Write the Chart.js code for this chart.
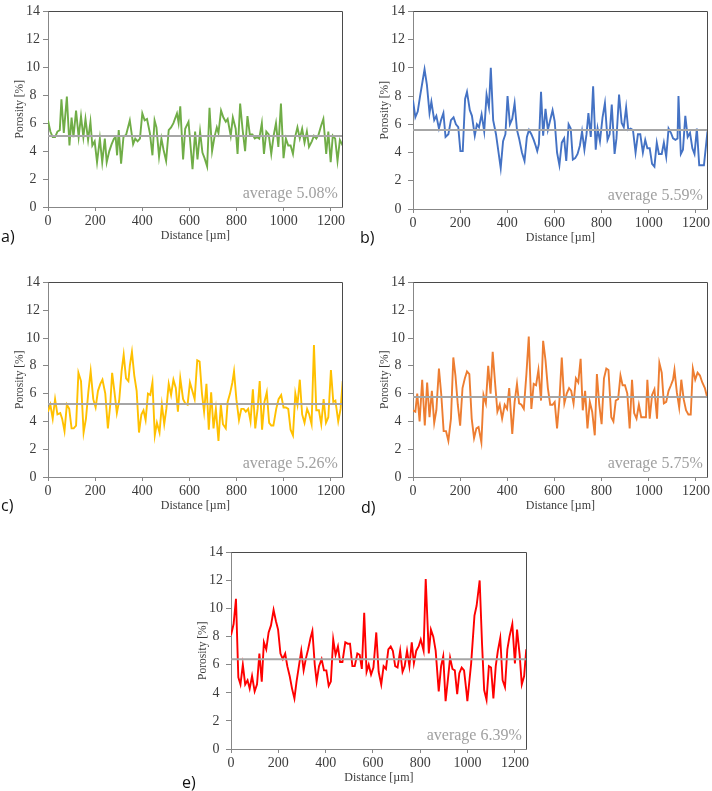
<!DOCTYPE html>
<html>
<head>
<meta charset="utf-8">
<script src="https://cdn.jsdelivr.net/npm/chart.js@4.4.1/dist/chart.umd.min.js"></script>
<style>
  body { margin: 0; background: #fff; }
  #page { position: relative; width: 712px; height: 791px; overflow: hidden; background: #fff; }
  canvas { position: absolute; }
  .tag { position: absolute; font-family: 'Open Sans', sans-serif; font-size: 16px; line-height: 1; color: #111; }
</style>
</head>
<body>
<div id="page">
  <canvas id="chartA" width="347" height="243" style="left:0px;top:0px"></canvas>
  <canvas id="chartB" width="347" height="245" style="left:365px;top:0px"></canvas>
  <canvas id="chartC" width="347" height="242" style="left:0px;top:271px"></canvas>
  <canvas id="chartD" width="347" height="242" style="left:365px;top:271px"></canvas>
  <canvas id="chartE" width="348" height="244" style="left:183px;top:541px"></canvas>
  <div class="tag" style="left:1px;top:228px">a)</div>
  <div class="tag" style="left:360px;top:229px">b)</div>
  <div class="tag" style="left:1px;top:497px">c)</div>
  <div class="tag" style="left:361px;top:499px">d)</div>
  <div class="tag" style="left:182px;top:774px">e)</div>
</div>
<script>
// distance [um] and porosity [%]
const distA = [0,10,20,30,40,50,57,67,80,91,100,108,119,130,140,150,159,170,180,188,198,208,220,230,241,249,260,270,280,287,293,300,310,320,332,347,361,370,380,390,400,410,420,432,443,452,460,471,481,490,501,512,522,532,547,554,561,573,582,596,613,624,634,645,655,664,675,685,696,706,716,723,734,744,754,762,775,784,796,804,815,825,836,846,856,867,877,887,896,907,916,926,936,947,957,967,977,988,999,1009,1019,1029,1039,1048,1058,1068,1078,1088,1098,1107,1119,1128,1138,1148,1158,1168,1180,1189,1199,1208,1218,1228,1238,1250];
const porA = [6.2,5.4,5.0,5.0,5.4,5.5,7.7,5.3,7.9,4.4,6.4,5.0,6.9,5.0,6.5,5.0,6.3,4.8,6.1,4.4,4.7,3.2,4.9,3.2,4.9,3.2,4.0,4.5,4.9,5.0,3.7,5.5,3.1,5.0,5.2,6.2,4.5,4.9,4.7,4.9,6.7,6.2,6.3,5.3,3.7,6.2,5.7,3.6,4.9,4.1,3.3,5.5,5.7,6.0,6.7,6.0,7.2,3.4,5.6,6.1,2.7,5.4,3.4,5.4,3.9,3.5,2.9,7.1,4.0,5.0,5.7,5.3,6.9,6.4,6.1,6.3,5.1,6.4,5.6,3.8,7.4,5.6,4.0,6.5,5.2,5.2,4.9,5.0,4.9,6.0,3.8,5.4,5.2,3.8,5.1,6.0,4.3,7.4,3.5,4.9,4.4,4.4,3.8,5.0,5.7,4.9,5.6,4.6,5.4,4.3,4.7,5.1,4.9,5.2,5.8,6.3,3.8,5.4,3.2,5.1,4.9,3.3,4.8,4.4];

const distB = [0,10,20,30,40,49,59,70,78,90,99,110,119,129,138,150,161,172,182,192,201,211,221,229,241,250,262,271,280,291,302,312,322,330,340,352,362,372,382,392,401,411,421,431,441,450,462,473,483,492,502,512,520,527,534,543,552,562,572,582,592,601,611,621,631,641,650,660,669,678,688,698,708,717,727,736,744,754,764,775,783,793,804,814,825,834,843,855,863,874,885,894,904,913,923,933,944,954,964,975,985,994,1004,1014,1024,1034,1043,1055,1064,1074,1084,1094,1103,1113,1122,1126,1136,1145,1155,1165,1175,1185,1194,1204,1214,1234,1249];
const porB = [7.7,6.5,6.9,8.0,9.0,9.9,8.8,6.8,7.6,6.3,6.6,5.7,6.3,6.8,5.1,5.3,6.3,6.5,6.0,5.8,4.1,4.1,7.8,8.3,7.0,6.6,5.2,6.0,5.8,6.7,5.5,8.1,7.2,10.0,6.3,5.3,4.1,2.9,4.8,5.3,8.0,6.0,6.4,7.5,5.6,5.0,4.0,3.4,5.1,5.6,5.3,4.9,4.5,4.1,4.6,8.3,5.2,7.1,5.6,6.3,7.0,6.2,4.0,3.1,4.7,5.0,3.4,6.0,5.7,3.5,3.6,3.9,4.5,5.5,4.2,5.3,6.8,5.1,8.7,4.2,5.7,4.8,6.5,7.5,4.9,5.3,7.4,3.9,5.0,8.1,6.1,5.8,7.2,5.6,5.7,5.6,4.0,5.3,5.3,4.0,4.9,4.3,4.3,3.2,3.0,4.7,3.9,3.9,4.7,3.7,5.7,5.4,5.0,4.9,5.0,8.0,3.9,4.2,6.6,5.1,5.4,4.3,3.9,5.7,3.1,3.1,5.5];

const distC = [0,10,20,30,40,52,60,70,80,90,100,109,119,129,140,151,161,171,181,192,202,212,222,231,243,254,264,272,282,292,302,312,321,331,341,347,356,366,376,386,396,405,414,424,434,443,453,462,473,483,493,502,512,522,532,542,551,561,573,582,592,602,612,622,633,643,653,662,672,682,692,702,712,723,733,742,754,762,772,782,789,799,810,820,830,839,849,859,869,879,889,898,908,918,928,938,947,956,968,978,989,999,1009,1019,1029,1039,1049,1058,1068,1078,1088,1099,1108,1118,1128,1138,1149,1159,1169,1179,1189,1200,1210,1219,1231,1241,1250];
const porC = [4.7,5.2,4.2,5.6,4.5,4.6,4.2,3.3,5.2,4.9,3.5,3.5,3.7,7.5,6.9,3.2,4.2,6.1,7.6,5.6,5.0,6.2,6.7,7.0,6.0,3.5,5.2,7.5,6.1,4.6,5.5,7.6,8.8,7.1,6.9,8.0,9.0,7.3,6.2,3.2,4.5,4.8,4.1,6.0,5.9,6.8,3.0,3.9,3.2,5.2,3.8,4.9,6.7,5.9,7.0,6.4,4.7,7.1,5.6,5.3,5.2,6.8,6.2,5.6,8.4,8.3,6.0,4.7,6.7,3.4,6.1,3.5,4.9,2.6,5.2,3.8,3.5,5.4,6.0,6.8,7.6,5.6,4.1,4.9,4.9,4.7,4.9,4.0,6.3,3.5,4.9,6.9,3.4,5.4,6.1,3.9,3.7,3.7,4.9,5.6,5.9,5.0,5.0,4.9,3.4,3.0,6.0,5.2,7.0,4.5,3.9,4.9,4.5,3.8,9.5,4.8,4.8,3.8,5.6,3.9,4.3,7.7,5.4,5.5,4.0,4.9,6.9];

const distD = [0,10,18,28,39,50,60,70,80,90,99,110,120,130,140,150,161,171,180,190,200,210,220,229,239,249,259,269,278,290,299,309,319,329,338,348,358,368,378,389,399,408,421,431,441,450,460,470,481,491,502,512,522,532,543,552,562,572,582,592,601,611,621,631,642,652,662,671,681,691,701,711,720,730,740,750,760,771,780,790,800,810,820,829,841,850,860,870,880,889,899,909,919,929,938,948,958,968,978,988,994,1004,1014,1024,1035,1045,1055,1064,1074,1084,1094,1103,1109,1119,1129,1138,1148,1158,1168,1178,1187,1197,1207,1217,1227,1238,1248];
const porD = [4.8,4.7,6.0,4.0,7.0,3.7,6.8,4.3,6.2,3.9,4.8,7.8,5.9,3.3,3.3,2.6,4.2,8.6,7.3,5.2,3.7,6.4,7.1,7.6,7.4,4.2,2.8,3.5,3.6,2.5,5.9,5.3,8.0,6.0,9.0,6.8,4.7,5.2,4.2,5.2,4.9,6.4,3.1,5.4,6.7,5.3,5.2,4.9,7.4,10.1,4.9,6.7,6.6,7.7,5.5,9.8,8.4,6.4,5.2,5.2,5.4,3.5,5.5,8.6,5.3,6.0,6.4,6.2,5.3,7.1,6.8,8.5,4.8,6.2,3.5,5.4,4.7,3.0,7.4,5.2,3.8,7.1,7.8,7.7,4.3,4.0,5.5,5.6,7.3,6.6,6.6,6.0,3.5,7.0,4.6,4.2,5.2,4.3,4.3,4.3,7.0,4.2,5.9,6.3,4.2,8.2,7.5,5.3,5.4,6.2,6.6,7.0,7.7,6.1,5.0,7.0,5.6,4.8,4.5,4.5,7.8,7.0,7.5,7.3,6.8,6.4,5.7];

const distE = [0,11,21,31,40,50,60,70,79,89,100,110,120,130,139,149,159,169,180,190,199,209,219,229,238,248,258,268,277,287,297,307,316,326,336,344,354,362,372,383,393,403,413,422,432,442,452,461,471,483,493,503,513,523,534,544,553,563,573,582,592,602,614,624,635,645,655,665,675,684,694,704,715,725,734,744,754,764,773,783,793,802,814,823,836,845,855,865,878,888,897,907,917,926,936,946,956,965,975,985,995,999,1015,1029,1038,1051,1061,1070,1080,1090,1099,1109,1119,1128,1138,1148,1158,1168,1177,1189,1200,1209,1220,1229,1239,1248];
const porE = [8.1,8.9,10.7,5.1,4.6,6.0,4.6,4.9,4.3,5.2,4.1,4.6,6.8,4.8,7.6,7.1,8.3,8.8,9.9,9.1,8.5,6.8,6.4,6.8,5.9,5.2,4.3,3.6,4.8,5.9,7.0,5.6,6.4,7.1,7.9,8.4,6.0,4.8,5.9,6.4,5.6,5.6,4.5,4.8,7.8,6.7,7.3,6.2,6.2,7.6,7.5,7.5,5.9,5.9,6.8,6.7,5.7,9.7,5.5,6.0,5.3,5.8,8.3,5.5,4.6,5.9,5.7,7.1,7.3,7.0,5.9,5.8,7.0,5.5,5.9,7.0,5.9,7.6,6.1,7.0,7.3,7.8,7.0,12.1,6.8,8.5,8.0,7.0,4.1,5.9,6.6,3.4,5.0,6.5,5.7,5.6,3.9,5.4,5.8,5.6,4.1,3.4,6.1,9.5,10.2,12.0,7.5,4.2,3.5,5.9,5.8,3.6,5.9,7.0,7.9,4.9,4.4,7.1,8.0,8.9,6.1,8.5,6.7,4.6,5.2,7.1];

const averages = [5.08, 5.59, 5.26, 5.75, 6.39];
const xTicks = [0, 200, 400, 600, 800, 1000, 1200];

const SERIF = "'Liberation Serif', 'Times New Roman', serif";
const AXIS = '#878787';
const FRAME = '#4a4a4a';
const TEXT = '#3c3c3c';

// top/right frame of the plot area + the "average" note
const framePlugin = {
  id: 'frame',
  afterDraw(chart, args, opts) {
    const {ctx, chartArea: a} = chart;
    const l = Math.round(a.left) + 0.5, t = Math.round(a.top) + 0.5;
    const r = Math.round(a.right) - 0.5, b = Math.round(a.bottom);
    ctx.save();
    ctx.strokeStyle = FRAME;
    ctx.lineWidth = 1;
    ctx.beginPath();
    ctx.moveTo(l, t);
    ctx.lineTo(r, t);
    ctx.lineTo(r, b);
    ctx.stroke();
    ctx.font = '16px ' + SERIF;
    ctx.fillStyle = '#a0a0a0';
    ctx.textAlign = 'right';
    ctx.textBaseline = 'alphabetic';
    ctx.fillText(opts.text, a.right - 5, a.bottom - 9);
    ctx.restore();
  }
};

function drawPanel(id, dist, por, avg, color) {
  const pts = dist.map((d, i) => ({x: d, y: por[i]}));
  new Chart(document.getElementById(id), {
    type: 'line',
    data: {
      datasets: [
        {
          data: [{x: 0, y: avg}, {x: 1250, y: avg}],
          borderColor: '#a6a6a6',
          borderWidth: 2,
          pointRadius: 0
        },
        {
          data: pts,
          borderColor: color,
          borderWidth: 1.9,
          pointRadius: 0,
          tension: 0
        }
      ]
    },
    options: {
      responsive: false,
      animation: false,
      devicePixelRatio: 1,
      layout: {padding: {top: 6, right: 2, left: 0, bottom: 0}},
      plugins: {
        legend: {display: false},
        tooltip: {enabled: false},
        frame: {text: 'average ' + avg.toFixed(2) + '%'}
      },
      scales: {
        x: {
          type: 'linear',
          min: 0,
          max: 1250,
          afterBuildTicks: s => { s.ticks = xTicks.map(v => ({value: v})); },
          afterFit: s => { s.height = 36; },
          ticks: {autoSkip: false, maxRotation: 0, padding: 2, color: TEXT, font: {family: SERIF, size: 14}, callback: v => String(v)},
          grid: {drawOnChartArea: false, tickLength: 4, color: AXIS},
          border: {color: AXIS},
          title: {display: true, text: 'Distance [µm]', color: TEXT, font: {family: SERIF, size: 12}, padding: {top: 0, bottom: 0}}
        },
        y: {
          min: 0,
          max: 14,
          afterFit: s => { s.width = 48; },
          ticks: {stepSize: 2, padding: 3, crossAlign: 'center', color: TEXT, font: {family: SERIF, size: 14}},
          grid: {drawOnChartArea: false, tickLength: 5, color: AXIS},
          border: {color: AXIS},
          title: {display: true, text: 'Porosity [%]', color: TEXT, font: {family: SERIF, size: 11.5}, padding: {top: 13, bottom: 0}}
        }
      }
    },
    plugins: [framePlugin]
  });
}

drawPanel('chartA', distA, porA, averages[0], '#70ad47');
drawPanel('chartB', distB, porB, averages[1], '#4472c4');
drawPanel('chartC', distC, porC, averages[2], '#ffc000');
drawPanel('chartD', distD, porD, averages[3], '#ed7d31');
drawPanel('chartE', distE, porE, averages[4], '#ff0000');
</script>
</body>
</html>
